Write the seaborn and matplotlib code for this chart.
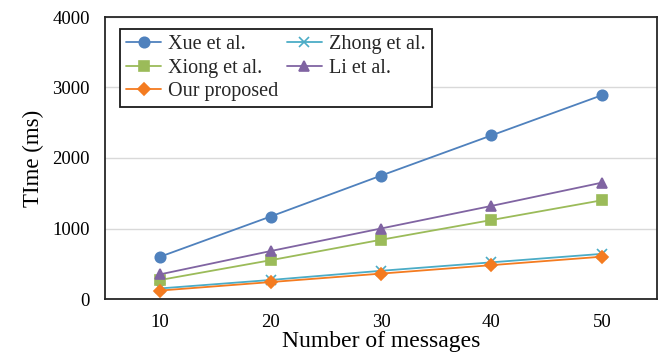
import matplotlib
matplotlib.use("Agg")
import matplotlib.pyplot as plt
import seaborn as sns
import pandas as pd

# Message counts on the x axis
messages = [10, 20, 30, 40, 50]

# Computation time (ms) for each scheme
xue = [600, 1170, 1750, 2320, 2890]
zhong = [150, 270, 400, 520, 640]
xiong = [270, 550, 840, 1120, 1400]
li = [350, 680, 1000, 1320, 1650]
ours = [120, 240, 360, 480, 600]

series_names = ["Xue et al.", "Zhong et al.", "Xiong et al.", "Li et al.", "Our proposed"]
series_values = [xue, zhong, xiong, li, ours]

y_ticks = [0, 1000, 2000, 3000, 4000]

sns.set_theme(style="white")
plt.rcParams["font.family"] = ["Liberation Serif", "DejaVu Serif"]

colors = {
    "Xue et al.": "#4F81BD",
    "Zhong et al.": "#4BACC6",
    "Xiong et al.": "#9BBB59",
    "Li et al.": "#8064A2",
    "Our proposed": "#F47B20",
}
markers = {
    "Xue et al.": "o",
    "Zhong et al.": "x",
    "Xiong et al.": "s",
    "Li et al.": "^",
    "Our proposed": "D",
}
msizes = {
    "Xue et al.": 7.5,
    "Zhong et al.": 6.5,
    "Xiong et al.": 7,
    "Li et al.": 7.5,
    "Our proposed": 6,
}

fig = plt.figure(figsize=(6.62, 3.63), dpi=100)
ax = fig.add_axes([105 / 662, 64 / 363, 552 / 662, 282 / 363])

for name, vals in zip(series_names, series_values):
    d = pd.DataFrame({"messages": messages, "time": vals})
    sns.lineplot(
        data=d, x="messages", y="time", color=colors[name],
        marker=markers[name], markersize=msizes[name],
        markeredgecolor=colors[name], markeredgewidth=1.2,
        linewidth=1.3, label=name, ax=ax,
    )

ax.set_xlim(5, 55)
ax.set_ylim(0, 4000)
ax.set_xticks(messages)
ax.set_xticklabels([str(m) for m in messages])
ax.set_yticks(y_ticks)
ax.yaxis.grid(True, color="#D9D9D9", linewidth=1.0)
ax.xaxis.grid(False)
ax.set_axisbelow(True)

for sp in ax.spines.values():
    sp.set_visible(True)
    sp.set_color("#262626")
    sp.set_linewidth(1.3)

ax.tick_params(axis="both", length=0, labelsize=13.5, colors="black")
ax.tick_params(axis="y", pad=11)
ax.tick_params(axis="x", pad=11)

ax.set_xlabel("Number of messages", fontsize=17, color="black", labelpad=0)
ax.set_ylabel("TIme (ms)", fontsize=16.5, color="black", labelpad=6)

# Legend: two columns, filled column-wise
handles, labels = ax.get_legend_handles_labels()
lookup = dict(zip(labels, handles))
order = ["Xue et al.", "Xiong et al.", "Our proposed", "Zhong et al.", "Li et al."]
leg = ax.legend(
    [lookup[k] for k in order], order, ncol=2,
    loc="upper left", bbox_to_anchor=(15 / 552, 1 - 12 / 282),
    borderaxespad=0, fontsize=14.5, frameon=True, fancybox=False,
    edgecolor="#1a1a1a", framealpha=1, handlelength=1.75,
    handletextpad=0.35, columnspacing=0.4, labelspacing=0.22,
    borderpad=0.3,
)
leg.get_frame().set_linewidth(1.3)

fig.savefig("out.png", dpi=100)
